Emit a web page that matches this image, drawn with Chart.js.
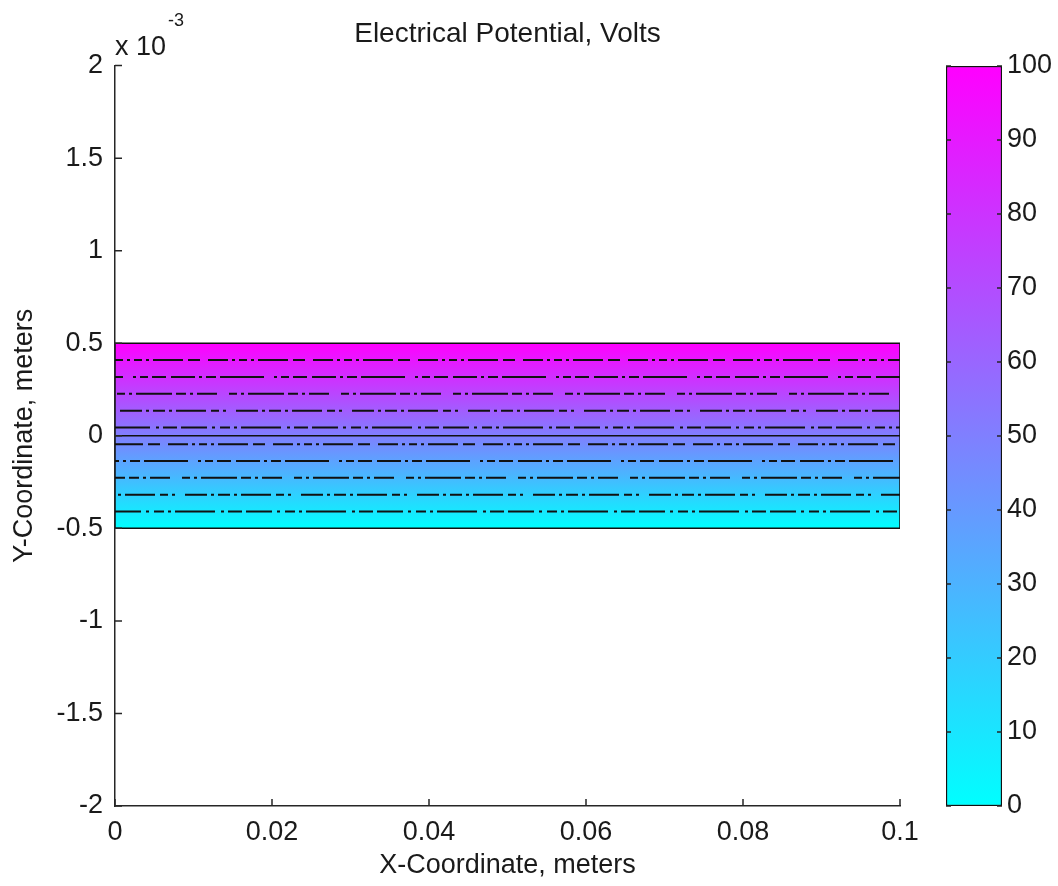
<!DOCTYPE html>
<html>
<head>
<meta charset="utf-8">
<title>Electrical Potential, Volts</title>
<script src="https://cdn.jsdelivr.net/npm/chart.js@4"></script>
<style>
  html, body { margin: 0; padding: 0; background: #fff; }
  #wrap { position: relative; width: 1058px; height: 886px; }
  #mainChart { position: absolute; left: 0; top: 0; }
  #barChart { position: absolute; left: 900px; top: 0; }
</style>
</head>
<body>
<div id="wrap">
  <canvas id="mainChart" width="1058" height="886"></canvas>
  <canvas id="barChart" width="158" height="886"></canvas>
</div>
<script>
'use strict';

// axis ticks (y in units of 1e-3 m)
const xTicks = [0, 0.02, 0.04, 0.06, 0.08, 0.1];
const yTicks = [-2, -1.5, -1, -0.5, 0, 0.5, 1, 1.5, 2];
const colorbarTicks = [0, 10, 20, 30, 40, 50, 60, 70, 80, 90, 100];

// conductor strip
const stripX = [0, 0.1];
const stripY = [-0.5, 0.5];
const stripVolts = [0, 100];

// equipotential lines (y, x 1e-3 m)
const contourY = [-0.409, -0.318, -0.227, -0.136, -0.045, 0.045, 0.136, 0.227, 0.318, 0.409];
const midLineY = [0];

const colors = {
    cyan: 'rgb(0, 255, 255)',
    magenta: 'rgb(255, 0, 255)',
    axis: '#262626',
    text: '#1a1a1a',
    line: '#111111'
};

const fontFamily = '"Liberation Sans", Arial, sans-serif';

// irregular dash-dot patterns, like the original contour render
const dashes = [
    [26, 5, 3, 5, 10, 4, 3, 4, 40, 6, 3, 4, 14, 4],
    [12, 4, 3, 4, 30, 5, 8, 4, 3, 10, 22, 4, 3, 4],
    [36, 4, 10, 4, 3, 4, 20, 12, 8, 4, 3, 4],
    [14, 5, 24, 4, 3, 4, 10, 4, 44, 10, 3, 4, 8, 4],
    [20, 4, 3, 4, 8, 4, 3, 4, 30, 5, 12, 8]
];

function coolGradient(chart, scale, lo, hi) {
    const g = chart.ctx.createLinearGradient(0, scale.getPixelForValue(lo), 0, scale.getPixelForValue(hi));
    g.addColorStop(0, colors.cyan);
    g.addColorStop(1, colors.magenta);
    return g;
}

// inward tick marks, drawn from the scales
const innerTicks = {
    id: 'innerTicks',
    afterDatasetsDraw: function (chart, args, opts) {
        const ctx = chart.ctx;
        const area = chart.chartArea;
        const len = opts.length || 7;
        ctx.save();
        ctx.strokeStyle = colors.axis;
        ctx.lineWidth = 1.5;
        ctx.beginPath();
        Object.values(chart.scales).forEach(function (scale) {
            if (!scale.options.display) return;
            scale.ticks.forEach(function (t) {
                const p = scale.getPixelForValue(t.value);
                if (scale.isHorizontal()) {
                    ctx.moveTo(p, area.bottom);
                    ctx.lineTo(p, area.bottom - len);
                } else {
                    ctx.moveTo(area.left, p);
                    ctx.lineTo(area.left + len, p);
                    if (opts.bothSides) {
                        ctx.moveTo(area.right, p);
                        ctx.lineTo(area.right - len, p);
                    }
                }
            });
        });
        ctx.stroke();
        ctx.restore();
    }
};

// "x 10^-3" multiplier above the y axis
const exponentLabel = {
    id: 'exponentLabel',
    afterDraw: function (chart) {
        const ctx = chart.ctx;
        const left = chart.chartArea.left;
        ctx.save();
        ctx.fillStyle = colors.text;
        ctx.textAlign = 'left';
        ctx.textBaseline = 'alphabetic';
        ctx.font = '27px ' + fontFamily;
        ctx.fillText('x 10', left, 55);
        ctx.font = '18px ' + fontFamily;
        ctx.fillText('-3', left + 53, 26);
        ctx.restore();
    }
};

// main plot
const mainDatasets = [];

mainDatasets.push({
    label: 'strip',
    data: [{x: stripX[0], y: stripY[1]}, {x: stripX[1], y: stripY[1]}],
    fill: {value: stripY[0]},
    borderWidth: 0,
    pointRadius: 0,
    order: 10,
    backgroundColor: function (context) {
        const chart = context.chart;
        if (!chart.chartArea) return colors.magenta;
        return coolGradient(chart, chart.scales.y, stripY[0], stripY[1]);
    }
});

contourY.forEach(function (y, i) {
    mainDatasets.push({
        label: 'contour ' + i,
        data: [{x: stripX[0], y: y}, {x: stripX[1], y: y}],
        borderColor: colors.line,
        borderWidth: 2,
        borderDash: dashes[i % dashes.length],
        borderDashOffset: i * 13,
        pointRadius: 0,
        fill: false,
        order: 2
    });
});

midLineY.forEach(function (y) {
    mainDatasets.push({
        label: 'mid',
        data: [{x: stripX[0], y: y}, {x: stripX[1], y: y}],
        borderColor: colors.line,
        borderWidth: 1.5,
        pointRadius: 0,
        fill: false,
        order: 1
    });
});

mainDatasets.push({
    label: 'outline',
    data: [
        {x: stripX[0], y: stripY[0]},
        {x: stripX[0], y: stripY[1]},
        {x: stripX[1], y: stripY[1]},
        {x: stripX[1], y: stripY[0]},
        {x: stripX[0], y: stripY[0]}
    ],
    borderColor: colors.line,
    borderWidth: 1.5,
    pointRadius: 0,
    fill: false,
    order: 0
});

new Chart(document.getElementById('mainChart'), {
    type: 'scatter',
    data: {datasets: mainDatasets},
    plugins: [innerTicks, exponentLabel],
    options: {
        responsive: false,
        animation: false,
        showLine: true,
        layout: {padding: {left: 0, right: 158, top: 0, bottom: 0}},
        scales: {
            x: {
                type: 'linear',
                min: 0,
                max: 0.1,
                afterBuildTicks: function (scale) {
                    scale.ticks = xTicks.map(v => ({value: v}));
                },
                afterFit: function (scale) {
                    scale.height = 80;
                },
                grid: {display: false, drawTicks: false},
                border: {display: true, color: colors.axis, width: 1.5},
                ticks: {
                    padding: 10,
                    color: colors.text,
                    font: {family: fontFamily, size: 27},
                    maxRotation: 0,
                    autoSkip: false,
                    callback: v => String(v)
                },
                title: {
                    display: true,
                    text: 'X-Coordinate, meters',
                    color: colors.text,
                    font: {family: fontFamily, size: 27},
                    padding: {top: 0, bottom: 4}
                }
            },
            y: {
                type: 'linear',
                min: -2,
                max: 2,
                afterBuildTicks: function (scale) {
                    scale.ticks = yTicks.map(v => ({value: v}));
                },
                afterFit: function (scale) {
                    scale.width = 115;
                },
                grid: {display: false, drawTicks: false},
                border: {display: true, color: colors.axis, width: 1.5},
                ticks: {
                    padding: 12,
                    color: colors.text,
                    font: {family: fontFamily, size: 27},
                    autoSkip: false,
                    callback: v => String(v)
                },
                title: {
                    display: true,
                    text: 'Y-Coordinate, meters',
                    color: colors.text,
                    font: {family: fontFamily, size: 27},
                    padding: {top: 8, bottom: 0}
                }
            }
        },
        plugins: {
            legend: {display: false},
            tooltip: {enabled: false},
            title: {
                display: true,
                text: 'Electrical Potential, Volts',
                fullSize: false,
                color: colors.text,
                font: {family: fontFamily, size: 28, weight: 'normal'},
                padding: {top: 17, bottom: 15}
            },
            innerTicks: {length: 7}
        }
    }
});

// colorbar
new Chart(document.getElementById('barChart'), {
    type: 'bar',
    data: {
        labels: ['V'],
        datasets: [{
            data: [stripVolts],
            barPercentage: 1,
            categoryPercentage: 1,
            borderColor: colors.line,
            borderWidth: 1.5,
            borderSkipped: false,
            backgroundColor: function (context) {
                const chart = context.chart;
                if (!chart.chartArea) return colors.magenta;
                return coolGradient(chart, chart.scales.y, stripVolts[0], stripVolts[1]);
            }
        }]
    },
    plugins: [innerTicks],
    options: {
        responsive: false,
        animation: false,
        layout: {padding: {left: 46, right: 0, top: 66, bottom: 80}},
        scales: {
            x: {display: false},
            y: {
                position: 'right',
                min: 0,
                max: 100,
                afterBuildTicks: function (scale) {
                    scale.ticks = colorbarTicks.map(v => ({value: v}));
                },
                afterFit: function (scale) {
                    scale.width = 56;
                },
                grid: {display: false, drawTicks: false},
                border: {display: false},
                ticks: {
                    padding: 5,
                    color: colors.text,
                    font: {family: fontFamily, size: 27},
                    autoSkip: false
                }
            }
        },
        plugins: {
            legend: {display: false},
            tooltip: {enabled: false},
            innerTicks: {length: 5, bothSides: true}
        }
    }
});
</script>
</body>
</html>
